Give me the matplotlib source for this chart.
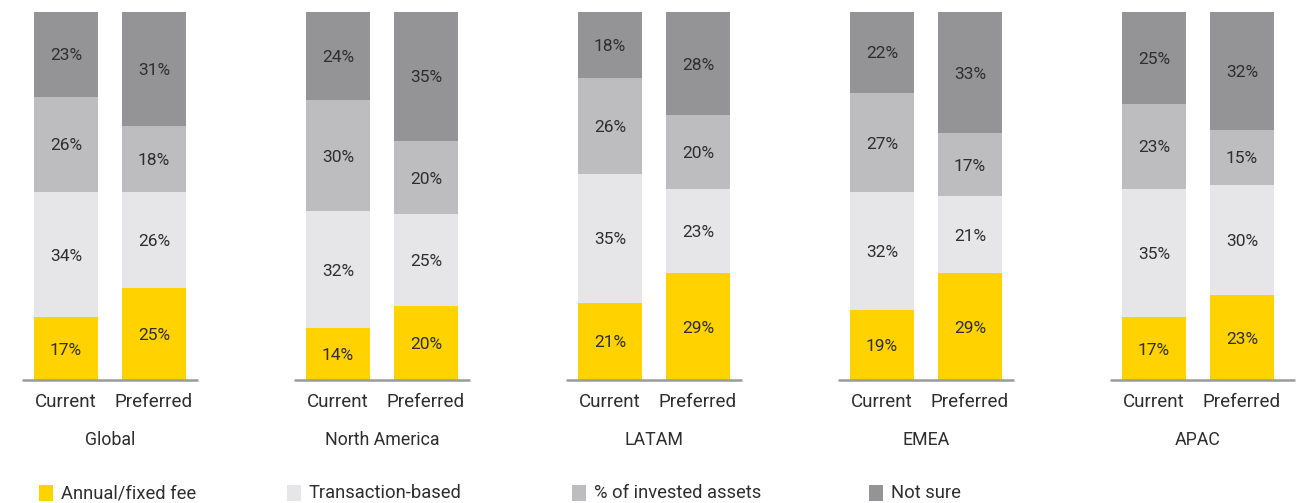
import matplotlib
matplotlib.use('Agg')
import matplotlib.pyplot as plt
from matplotlib.patches import Rectangle

# data
regions = ['Global', 'North America', 'LATAM', 'EMEA', 'APAC']
bar_labels = ['Current', 'Preferred']
series = ['Annual/fixed fee', 'Transaction-based', '% of invested assets', 'Not sure']
annual_fee = [[17, 25], [14, 20], [21, 29], [19, 29], [17, 23]]
transaction = [[34, 26], [32, 25], [35, 23], [32, 21], [35, 30]]
invested = [[26, 18], [30, 20], [26, 20], [27, 17], [23, 15]]
not_sure = [[23, 31], [24, 35], [18, 28], [22, 33], [25, 32]]

colors = ['#FFD200', '#E6E6E8', '#BDBDC0', '#949497']
txt_col = '#2e2e2e'
plt.rcParams['font.family'] = ['Roboto', 'DejaVu Sans']

W, H = 1297, 503
fig = plt.figure(figsize=(W / 100, H / 100), dpi=100)
ax = fig.add_axes([0, (H - 380) / H, 1, 368 / H])
ax.set_xlim(0, W)
ax.set_ylim(0, 100)
ax.axis('off')

bar_w = 64
group_step = 272
bar_step = 88
first = 66

all_series = [annual_fee, transaction, invested, not_sure]
for g, reg in enumerate(regions):
    for k in range(2):
        x = first + group_step * g + bar_step * k
        bottom = 0
        for s, data in enumerate(all_series):
            v = data[g][k]
            ax.bar(x, v, width=bar_w, bottom=bottom, color=colors[s], linewidth=0)
            ax.text(x, bottom + v / 2, '%d%%' % v, ha='center', va='center_baseline',
                    fontsize=12.5, color=txt_col)
            bottom += v
        ax.text(x, -6, bar_labels[k], ha='center', va='center', fontsize=13.5,
                color=txt_col, clip_on=False)
    xc = first + group_step * g + bar_step / 2
    x0 = first + group_step * g - bar_w / 2 - 12
    x1 = first + group_step * g + bar_step + bar_w / 2 + 12
    if g == len(regions) - 1:
        x1 = W - 2
    ax.plot([x0, x1], [0, 0], color='#9a9a9a', lw=1.8, solid_capstyle='butt', clip_on=False)
    ax.text(xc, -16.3, reg, ha='center', va='center', fontsize=12.8,
            color=txt_col, clip_on=False)

# legend
leg_x = [39, 287, 572, 869]
for s, name in enumerate(series):
    fig.patches.append(Rectangle((leg_x[s] / W, (H - 501) / H), 14 / W, 16 / H,
                                 transform=fig.transFigure, color=colors[s], lw=0))
    fig.text((leg_x[s] + 22) / W, (H - 493) / H, name, ha='left', va='center',
             fontsize=13.2, color=txt_col)

fig.savefig('out.png', dpi=100)
